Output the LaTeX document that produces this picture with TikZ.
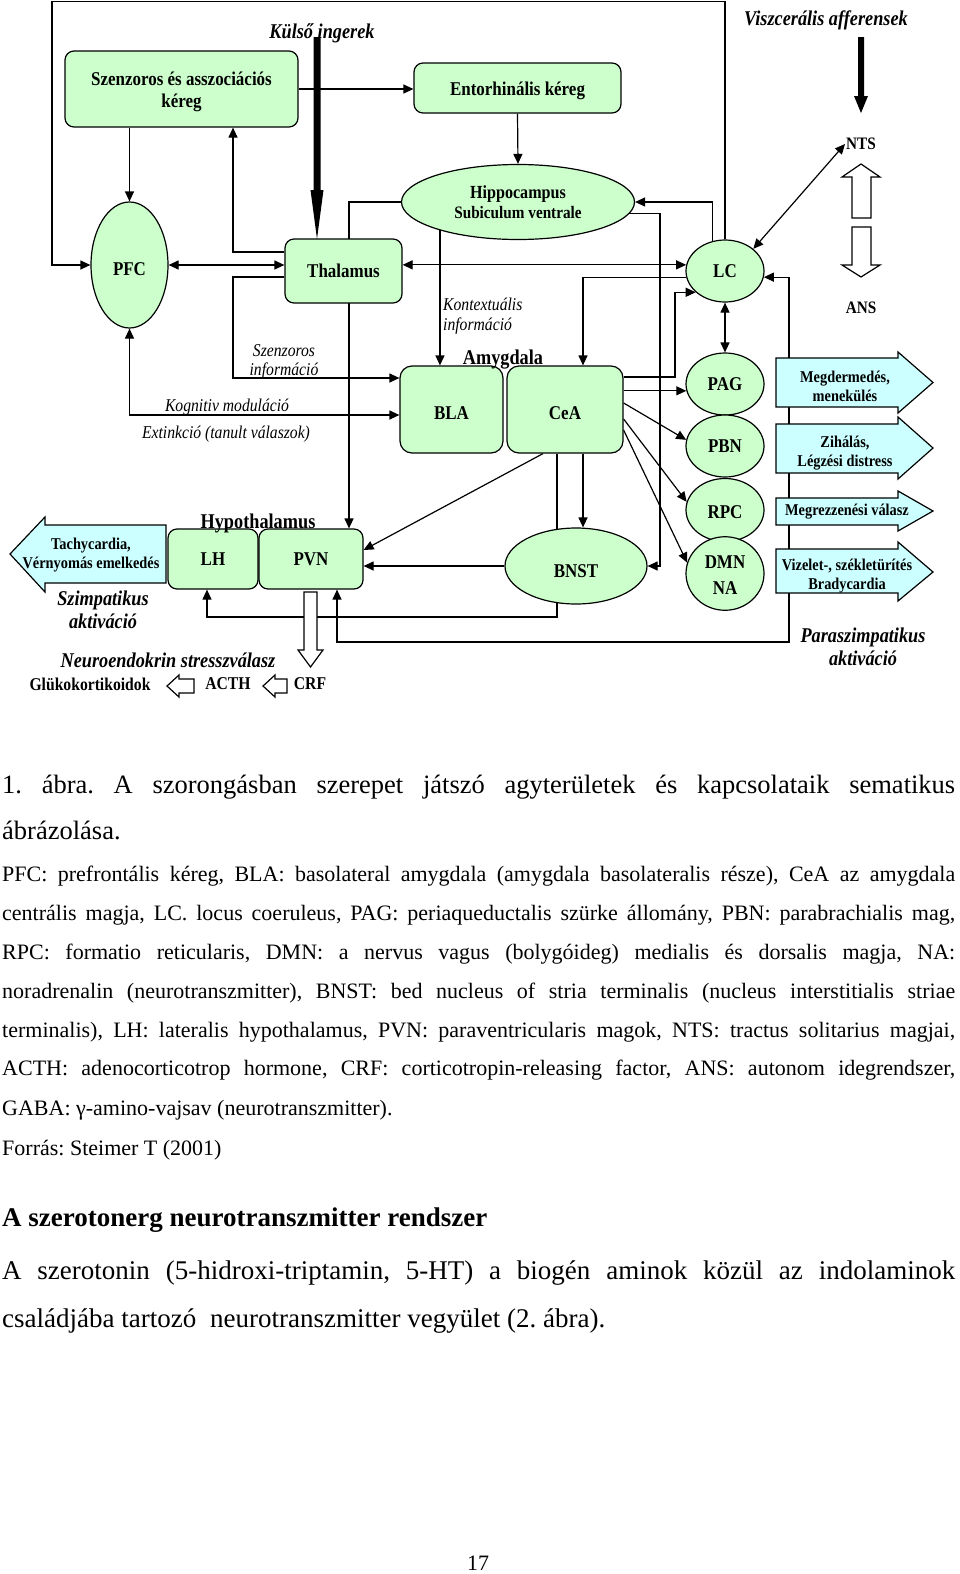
\documentclass[tikz,border=0pt]{standalone}
\usepackage{fontspec}
\setmainfont{Liberation Serif}
\newfontfamily\dfont[FakeStretch=0.87]{Liberation Serif}
\usetikzlibrary{shapes.geometric,arrows.meta}
\pgfdeclarelayer{bg}
\pgfsetlayers{bg,main}
\newcommand\myfs[2]{\fontsize{#1}{#2}\selectfont}
\newcommand\lowr[2]{\raisebox{-#1}[\height][\depth]{#2}}
\newcommand\twoln[2]{\begin{tabular}{@{}c@{}}#1\\#2\end{tabular}}
\definecolor{grn}{HTML}{CCFFCC}
\definecolor{blu}{HTML}{CCFFFF}
\frenchspacing
\begin{document}
\begin{tikzpicture}[x=1pt,y=-1pt, line join=miter,
  gbox/.style={draw, fill=grn, rounded corners=9pt, line width=1.2pt, inner sep=0pt, align=center, font=\dfont\bfseries\myfs{19.5}{22}},
  gell/.style={draw, fill=grn, ellipse, line width=1.2pt, inner sep=0pt, align=center, font=\dfont\bfseries\myfs{19.5}{26}},
  bshape/.style={draw, fill=blu, line width=1.2pt},
  btxt/.style={inner sep=0pt, align=center, font=\dfont\bfseries\myfs{16.5}{19}},
  ilbl/.style={inner sep=0pt, align=center, font=\dfont\itshape\myfs{18}{20}},
  bilbl/.style={inner sep=0pt, align=center, font=\dfont\bfseries\itshape\myfs{21}{23}},
  blbl/.style={inner sep=0pt, align=center, font=\dfont\bfseries\myfs{18}{20}},
  hollow/.style={draw, fill=white, line width=1.2pt},
  arr/.style={line width=1.2pt, -{Triangle[length=10pt,width=9pt]}},
  darr/.style={line width=1.2pt, {Triangle[length=10pt,width=9pt]}-{Triangle[length=10pt,width=9pt]}},
  body/.style={inner sep=0pt, anchor=base west},
]
\path[use as bounding box] (0,0) rectangle (960,1574);

% ---------- main nodes ----------
\node[gbox, minimum width=233pt, minimum height=76pt] (sza) at (181.5,89) {\lowr{3pt}{\twoln{Szenzoros és asszociációs}{kéreg}}};
\node[gbox, minimum width=207pt, minimum height=50pt] (ent) at (517.5,88) {\lowr{3pt}{Entorhinális kéreg}};
\node[gell, minimum width=233pt, minimum height=75pt, font=\dfont\bfseries\myfs{18.5}{20}] (hip) at (518,202) {\lowr{2pt}{\twoln{Hippocampus}{\myfs{17.5}{20}Subiculum ventrale}}};
\node[gell, minimum width=77pt, minimum height=126pt] (pfc) at (129.5,265) {\lowr{4pt}{PFC}};
\node[gbox, minimum width=117pt, minimum height=64pt] (thal) at (343.5,271) {Thalamus};
\node[gell, minimum width=78pt, minimum height=62pt] (lc) at (725,271) {LC};
\node[gbox, rounded corners=12pt, minimum width=103pt, minimum height=87pt] (bla) at (451.5,409.5) {\lowr{4pt}{BLA}};
\node[gbox, rounded corners=12pt, minimum width=116pt, minimum height=87pt] (cea) at (565,409.5) {\lowr{4pt}{CeA}};
\node[gell, minimum width=78pt, minimum height=62pt] (pag) at (725,384) {PAG};
\node[gell, minimum width=78pt, minimum height=62pt] (pbn) at (725,446) {PBN};
\node[gell, minimum width=78pt, minimum height=63pt] (rpc) at (725,510) {\lowr{2pt}{RPC}};
\node[gell, minimum width=78pt, minimum height=63pt, font=\dfont\bfseries\myfs{19.5}{26}] (dmn) at (725,573.5) {\lowr{3pt}{\twoln{DMN}{NA}}};
\node[gell, minimum width=142pt, minimum height=76pt] (bnst) at (576,566) {\lowr{5pt}{BNST}};
\node[gbox, minimum width=90pt, minimum height=60pt] (lh) at (213,559) {LH};
\node[gbox, minimum width=104pt, minimum height=60pt] (pvn) at (311,559) {PVN};

% ---------- labels ----------
\node[inner sep=0pt, font=\dfont\bfseries\myfs{21}{23}] (amy) at (503,360) {Amygdala};
\node[inner sep=0pt, font=\dfont\bfseries\myfs{21}{23}] (hyp) at (258,523) {Hypothalamus};
\node[bilbl] (kulso) at (322,33) {Külső ingerek};
\node[bilbl] (visz) at (826,20) {Viszcerális afferensek};
\node[inner sep=1pt, font=\dfont\bfseries\myfs{17.5}{20}] (nts) at (861,144) {NTS};
\node[inner sep=1pt, font=\dfont\bfseries\myfs{17.5}{20}] (ans) at (861,308) {ANS};
\node[ilbl, anchor=west, align=left] (kont) at (443,316) {Kontextuális\\információ};
\node[ilbl, font=\dfont\itshape\myfs{18}{19}] (szinf) at (284,362) {Szenzoros\\információ};
\node[ilbl] (kogn) at (227,407) {Kognitiv moduláció};
\node[ilbl] (ext) at (226,434) {Extinkció (tanult válaszok)};
\node[bilbl] (szimp) at (103,609.5) {Szimpatikus\\aktiváció};
\node[bilbl] (neuro) at (168,660) {Neuroendokrin stresszválasz};
\node[bilbl] (para) at (863,646.5) {Paraszimpatikus\\aktiváció};
\node[blbl] (gluko) at (90,684) {Glükokortikoidok};
\node[blbl] (acth) at (228,684) {ACTH};
\node[blbl] (crf) at (310,684) {CRF};

% ---------- blue response arrows ----------
\draw[bshape] (776,358) -- (898,358) -- (898,352) -- (933,382.5) -- (898,413) -- (898,407) -- (776,407) -- cycle;
\node[btxt] (megd) at (845,386) {Megdermedés,\\menekülés};
\draw[bshape] (776,424) -- (898,424) -- (898,417) -- (933,448) -- (898,479) -- (898,473) -- (776,473) -- cycle;
\node[btxt] (ziha) at (845,453) {Zihálás,\\Légzési distress};
\draw[bshape] (776,498) -- (898,498) -- (898,491) -- (933,511) -- (898,531) -- (898,525) -- (776,525) -- cycle;
\node[btxt] (megr) at (847,512) {Megrezzenési válasz};
\draw[bshape] (776,549) -- (898,549) -- (898,542) -- (933,572) -- (898,601) -- (898,593) -- (776,593) -- cycle;
\node[btxt] (vize) at (847,576) {Vizelet-, székletürítés\\Bradycardia};
\draw[bshape] (166,525) -- (45,525) -- (45,517) -- (10,554) -- (45,592) -- (45,583) -- (166,583) -- cycle;
\node[btxt] (tachy) at (91,555) {Tachycardia,\\Vérnyomás emelkedés};

% ---------- thick and hollow arrows ----------
\fill (313.5,37) -- (320.5,37) -- (320.5,190) -- (323.5,190) -- (317,239) -- (310.5,190) -- (313.5,190) -- cycle;
\fill (858,37) -- (864,37) -- (864,96) -- (868,96) -- (861,113) -- (854,96) -- (858,96) -- cycle;
\draw[hollow] (852,218) -- (852,177) -- (842,177) -- (861,164) -- (880,177) -- (871,177) -- (871,218) -- cycle;
\draw[hollow] (852,227) -- (852,265) -- (842,265) -- (861,277) -- (880,265) -- (871,265) -- (871,227) -- cycle;
\draw[hollow] (304,592) -- (304,650) -- (298,650) -- (310.5,667) -- (323,650) -- (317,650) -- (317,592) -- cycle;
\draw[hollow] (194,679) -- (179,679) -- (179,675) -- (167,686) -- (179,697) -- (179,693) -- (194,693) -- cycle;
\draw[hollow] (287,679) -- (275,679) -- (275,675) -- (263,686) -- (275,697) -- (275,693) -- (287,693) -- cycle;

% ---------- connectors ----------
\begin{pgfonlayer}{bg}
\fill[white] (0,0) rectangle (960,1574);
\draw[arr] (sza.east) -- (sza.east -| ent.west);
\draw[arr] (sza.south -| pfc.north) -- (pfc.north);
\draw[arr] (thal.west |- 0,252) -- (233,252) -- (233,0 |- sza.south);
\draw[darr] (pfc.east) -- (pfc.east -| thal.west);
\draw[arr] (lc.north) -- (725,1.5) -- (52,1.5) -- (52,0 |- pfc.west) -- (pfc.west);
\draw[arr] (ent.south) -- (hip.north);
\draw[arr] (lc.112) |- (hip.east);
\draw[arr] (hip.west) -| (349,0 |- pvn.north);
\draw[arr] (hip.200) -- (hip.200 |- bla.north);
\draw[arr] (thal.west |- 0,277) -- (233,277) -- (233,378) -- (bla.west |- 0,378);
\draw[darr] (pfc.south) -- (pfc.south |- 0,415) -- (bla.west |- 0,415);
\draw[darr] (lc.171) -- (lc.171 -| thal.east);
\draw[arr] (lc.189) -| (583,0 |- cea.north);
\draw[arr] (cea.east |- 0,377) -| (675,0 |- lc.216) -- (lc.216);
\draw[darr] (lc.south) -- (pag.north);
\draw[darr] (nts.west) -- (lc.38);
\draw[darr] (pvn.south -| 337,0) -- (337,642) -- (789,642) -- (789,0 |- lc.351) -- (lc.351);
\draw[arr] (cea.east |- pag.190) -- (pag.190);
\draw[arr] (cea.east |- 0,403) -- (pbn.171);
\draw[arr] (cea.east |- 0,419) -- (rpc.168);
\draw[arr] (cea.east |- 0,430) -- (dmn.164);
\draw[arr] (543,0 |- cea.south) -- (pvn.east |- 0,550);
\draw[arr] (557,0 |- cea.south) -- (557,617) -- (207,617) -- (207,0 |- lh.south);
\draw[arr] (583,0 |- cea.south) -- (583,0 |- bnst.north);
\draw[arr] (bnst.west) -- (bnst.west -| pvn.east);
\draw[arr] (hip.354) -- (660,0 |- hip.354) -- (660,0 |- bnst.east) -- (bnst.east);
\end{pgfonlayer}

% ---------- text body ----------
\node[body, font=\myfs{26.5}{30}] (cap1) at (2,793) {\makebox[953pt][s]{1. ábra. A szorongásban szerepet játszó agyterületek és kapcsolataik sematikus}};
\node[body, font=\myfs{26.5}{30}] (cap2) at (2,839) {ábrázolása.};
\node[body, font=\myfs{22}{26}] (l1) at (2,881) {\makebox[953pt][s]{PFC: prefrontális kéreg, BLA: basolateral amygdala (amygdala basolateralis része), CeA az amygdala}};
\node[body, font=\myfs{22}{26}] (l2) at (2,920) {\makebox[953pt][s]{centrális magja, LC. locus coeruleus, PAG: periaqueductalis szürke állomány, PBN: parabrachialis mag,}};
\node[body, font=\myfs{22}{26}] (l3) at (2,959) {\makebox[953pt][s]{RPC: formatio reticularis, DMN: a nervus vagus (bolygóideg) medialis és dorsalis magja, NA:}};
\node[body, font=\myfs{22}{26}] (l4) at (2,998) {\makebox[953pt][s]{noradrenalin (neurotranszmitter), BNST: bed nucleus of stria terminalis (nucleus interstitialis striae}};
\node[body, font=\myfs{22}{26}] (l5) at (2,1037) {\makebox[953pt][s]{terminalis), LH: lateralis hypothalamus, PVN: paraventricularis magok, NTS: tractus solitarius magjai,}};
\node[body, font=\myfs{22}{26}] (l6) at (2,1075) {\makebox[953pt][s]{ACTH: adenocorticotrop hormone, CRF: corticotropin-releasing factor, ANS: autonom idegrendszer,}};
\node[body, font=\myfs{22}{26}] (l7) at (2,1115) {GABA: γ-amino-vajsav (neurotranszmitter).};
\node[body, font=\myfs{22}{26}] (src) at (2,1155) {Forrás: Steimer T (2001)};
\node[body, font=\bfseries\myfs{27}{30}] (head) at (2,1226) {A szerotonerg neurotranszmitter rendszer};
\node[body, font=\myfs{27}{30}] (p1) at (2,1279) {\makebox[953pt][s]{A szerotonin (5-hidroxi-triptamin, 5-HT) a biogén aminok közül az indolaminok}};
\node[body, font=\myfs{27}{30}] (p2) at (2,1327) {családjába tartozó\hspace{7pt} neurotranszmitter vegyület (2. ábra).};
\node[inner sep=0pt, anchor=base, font=\myfs{22}{26}] (pg) at (478,1570) {17};
\end{tikzpicture}
\end{document}
